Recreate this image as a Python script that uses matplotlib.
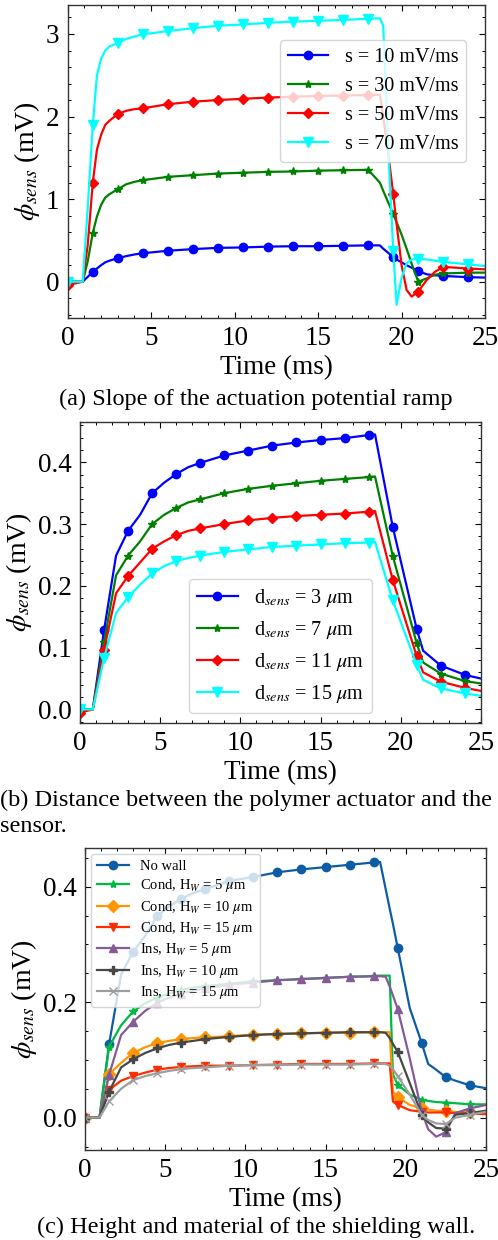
import numpy as np
import matplotlib
matplotlib.use("Agg")
import matplotlib.pyplot as plt
from matplotlib.ticker import MultipleLocator

plt.rcParams['font.family'] = ['Liberation Serif', 'DejaVu Serif']
plt.rcParams['mathtext.fontset'] = 'stix'
plt.rcParams['xtick.direction'] = 'in'
plt.rcParams['ytick.direction'] = 'in'
plt.rcParams['xtick.top'] = True
plt.rcParams['ytick.right'] = True
plt.rcParams['xtick.major.size'] = 4.5
plt.rcParams['ytick.major.size'] = 4.5
plt.rcParams['xtick.minor.size'] = 2.2
plt.rcParams['ytick.minor.size'] = 2.2
plt.rcParams['xtick.major.width'] = 0.8
plt.rcParams['ytick.major.width'] = 0.8
plt.rcParams['xtick.minor.width'] = 0.7
plt.rcParams['ytick.minor.width'] = 0.7
plt.rcParams['axes.linewidth'] = 1.0
plt.rcParams['axes.edgecolor'] = '#333333'

# (a) slope of the actuation potential ramp
t_a = [0, 0.9, 1.2, 1.5, 1.75, 2.0, 2.25, 2.5, 3, 3.5, 4, 4.5, 6, 7.5, 9, 10.5, 12, 13.5, 15,
       16.5, 18, 18.7, 18.9, 19.2, 19.5, 19.7, 20.0, 20.3, 20.6, 21, 21.5, 22, 22.5, 24, 25]
s10 = [0, 0, 0.06, 0.12, 0.16, 0.2, 0.235, 0.255, 0.285, 0.31, 0.33, 0.345, 0.375, 0.395, 0.41,
       0.415, 0.425, 0.43, 0.43, 0.435, 0.44, 0.44, 0.4, 0.35, 0.295, 0.27, 0.235, 0.2, 0.17,
       0.13, 0.09, 0.078, 0.07, 0.055, 0.05]
s30 = [0, 0, 0.25, 0.59, 0.79, 0.93, 1.02, 1.06, 1.12, 1.18, 1.21, 1.23, 1.27, 1.29, 1.31,
       1.32, 1.33, 1.335, 1.345, 1.35, 1.355, 1.2, 1.1, 0.96, 0.82, 0.72, 0.57, 0.4, 0.22,
       0.0, 0.04, 0.085, 0.1, 0.11, 0.11]
s50 = [-0.04, 0, 0.45, 1.2, 1.6, 1.78, 1.9, 1.95, 2.03, 2.07, 2.09, 2.1, 2.15, 2.18, 2.2, 2.215,
       2.23, 2.24, 2.25, 2.255, 2.26, 2.265, 2.0, 1.55, 1.06, 0.7, 0.2, -0.1, -0.18, -0.12,
       0.02, 0.12, 0.18, 0.16, 0.15]
s70 = [0, 0, 0.9, 1.9, 2.5, 2.7, 2.8, 2.85, 2.89, 2.94, 2.97, 2.995, 3.035, 3.07, 3.1, 3.115,
       3.135, 3.15, 3.16, 3.17, 3.185, 3.19, 3.1, 1.6, 0.375, -0.28, 0.05, 0.22, 0.27, 0.275,
       0.27, 0.255, 0.24, 0.21, 0.19]

# (b) distance between actuator and sensor
t_b = [0, 0.8, 1.5, 2.25, 3, 3.75, 4.5, 5.25, 6, 6.75, 7.5, 9, 10.5, 12, 13.5, 15, 16.5, 18,
       18.4, 19.5, 21, 21.4, 22.5, 24, 25]
d3 = [0, 0, 0.128, 0.249, 0.289, 0.315, 0.35, 0.367, 0.381, 0.392, 0.399, 0.411, 0.419, 0.427,
      0.432, 0.436, 0.439, 0.444, 0.445, 0.296, 0.13, 0.095, 0.071, 0.056, 0.05]
d7 = [0, 0, 0.109, 0.217, 0.249, 0.272, 0.30, 0.315, 0.326, 0.335, 0.34, 0.35, 0.357, 0.362,
      0.366, 0.37, 0.373, 0.376, 0.377, 0.249, 0.107, 0.076, 0.058, 0.046, 0.042]
d11 = [-0.005, 0, 0.096, 0.188, 0.216, 0.238, 0.26, 0.272, 0.282, 0.289, 0.293, 0.30, 0.306, 0.31,
       0.313, 0.315, 0.317, 0.32, 0.321, 0.21, 0.086, 0.06, 0.045, 0.035, 0.03]
d15 = [0, 0, 0.083, 0.156, 0.182, 0.202, 0.22, 0.232, 0.24, 0.245, 0.249, 0.255, 0.259, 0.263,
       0.265, 0.267, 0.269, 0.27, 0.271, 0.177, 0.072, 0.048, 0.034, 0.026, 0.022]

# (c) height and material of the shielding wall
t_c = [0, 0.9, 1.5, 2.25, 3, 3.75, 4.5, 5.25, 6, 6.75, 7.5, 9, 10.5, 12, 13.5, 15, 16.5, 18,
       18.4, 18.75, 19.0, 19.2, 19.5, 20.25, 21, 21.4, 21.9, 22.5, 23.1, 24, 25]
no_wall = [0, 0, 0.127, 0.248, 0.287, 0.315, 0.349, 0.366, 0.379, 0.389, 0.396, 0.41, 0.417,
           0.425, 0.43, 0.434, 0.438, 0.442, 0.443, 0.396, 0.362, 0.336, 0.294, 0.19, 0.129,
           0.093, 0.083, 0.07, 0.064, 0.056, 0.051]
cond5 = [0, 0, 0.123, 0.16, 0.184, 0.198, 0.208, 0.215, 0.221, 0.225, 0.228, 0.232, 0.236,
         0.238, 0.24, 0.242, 0.244, 0.245, 0.246, 0.246, 0.246, 0.075, 0.057, 0.04, 0.031,
         0.029, 0.027, 0.026, 0.025, 0.023, 0.023]
cond10 = [0, 0, 0.075, 0.095, 0.112, 0.122, 0.129, 0.133, 0.136, 0.138, 0.139, 0.141, 0.144,
          0.145, 0.146, 0.147, 0.147, 0.148, 0.148, 0.148, 0.148, 0.045, 0.036, 0.022, 0.016,
          0.014, 0.012, 0.011, 0.01, 0.009, 0.008]
cond15 = [0, 0, 0.048, 0.064, 0.072, 0.078, 0.083, 0.086, 0.088, 0.089, 0.09, 0.09, 0.091,
          0.092, 0.093, 0.093, 0.093, 0.094, 0.094, 0.094, 0.094, 0.028, 0.022, 0.013, 0.01,
          0.009, 0.009, 0.009, 0.008, 0.007, 0.006]
ins5 = [0, 0, 0.074, 0.143, 0.166, 0.185, 0.199, 0.208, 0.215, 0.22, 0.224, 0.23, 0.234,
        0.238, 0.24, 0.242, 0.244, 0.245, 0.245, 0.244, 0.227, 0.212, 0.188, 0.103, 0.01,
        -0.02, -0.033, -0.025, 0.008, 0.016, 0.022]
ins10 = [0, 0, 0.045, 0.087, 0.101, 0.112, 0.12, 0.126, 0.13, 0.133, 0.136, 0.14, 0.143,
         0.145, 0.146, 0.147, 0.148, 0.148, 0.148, 0.147, 0.138, 0.128, 0.114, 0.06, 0.005,
         -0.008, -0.018, -0.019, 0.005, 0.008, 0.012]
ins15 = [0, 0, 0.028, 0.05, 0.065, 0.072, 0.077, 0.081, 0.084, 0.086, 0.087, 0.09, 0.091,
         0.091, 0.092, 0.092, 0.092, 0.093, 0.093, 0.093, 0.09, 0.084, 0.072, 0.04, 0.005,
         -0.004, -0.01, -0.011, 0.0, 0.005, 0.01]


def mark_idx(t):
    t = np.asarray(t) / 1.5
    return list(np.where(np.isclose(t, np.round(t)))[0])


def style(ax, ylim, ymaj, ymin):
    ax.set_xlim(0, 25)
    ax.set_ylim(*ylim)
    ax.xaxis.set_major_locator(MultipleLocator(5))
    ax.xaxis.set_minor_locator(MultipleLocator(1))
    ax.yaxis.set_major_locator(MultipleLocator(ymaj))
    ax.yaxis.set_minor_locator(MultipleLocator(ymin))
    ax.tick_params(which='both', labelsize=19.5, pad=6)
    ax.set_xlabel('Time (ms)', fontsize=19.5, labelpad=3)
    ax.set_ylabel(r'$\phi_{sens}$ (mV)', fontsize=20, labelpad=3)


fig = plt.figure(figsize=(4.98, 12.4), dpi=100)

# panel a
ax = fig.add_axes([0.136, 0.7435, 0.838, 0.2524])
mk = mark_idx(t_a)
ax.plot(t_a, s10, c='blue', marker='o', ms=6, lw=1.6, markevery=mk, label='s = 10 mV/ms')
ax.plot(t_a, s30, c='green', marker='*', ms=6, lw=1.6, markevery=mk, label='s = 30 mV/ms')
ax.plot(t_a, s50, c='red', marker='D', ms=5.5, lw=1.6, markevery=mk, label='s = 50 mV/ms')
ax.plot(t_a, s70, c='cyan', marker='v', ms=6.5, lw=1.6, markevery=mk, label='s = 70 mV/ms')
style(ax, (-0.44, 3.35), 1, 0.2)
ax.yaxis.set_major_formatter(plt.FormatStrFormatter('%d'))
ax.legend(loc='upper right', bbox_to_anchor=(0.955, 0.89), borderaxespad=0, fontsize=14.5)

# panel b
ax = fig.add_axes([0.1606, 0.4169, 0.805, 0.2427])
mk = mark_idx(t_b)
ax.plot(t_b, d3, c='blue', marker='o', ms=6, lw=1.6, markevery=mk, label=r'd$_{sens}$ = 3 $\mu$m')
ax.plot(t_b, d7, c='green', marker='*', ms=6, lw=1.6, markevery=mk, label=r'd$_{sens}$ = 7 $\mu$m')
ax.plot(t_b, d11, c='red', marker='D', ms=5.5, lw=1.6, markevery=mk, label=r'd$_{sens}$ = 11 $\mu$m')
ax.plot(t_b, d15, c='cyan', marker='v', ms=6.5, lw=1.6, markevery=mk, label=r'd$_{sens}$ = 15 $\mu$m')
style(ax, (-0.022, 0.465), 0.1, 0.02)
ax.yaxis.set_major_formatter(plt.FormatStrFormatter('%.1f'))
ax.legend(loc='lower center', fontsize=14.5)

# panel c
ax = fig.add_axes([0.1707, 0.0726, 0.805, 0.2435])
mk = mark_idx(t_c)
series_c = [
    (no_wall, '#0C5DA5', 'o', 'No wall'),
    (cond5, '#00B945', '*', r'Cond, H$_W$ = 5 $\mu$m'),
    (cond10, '#FF9500', 'D', r'Cond, H$_W$ = 10 $\mu$m'),
    (cond15, '#FF2C00', 'v', r'Cond, H$_W$ = 15 $\mu$m'),
    (ins5, '#845B97', '^', r'Ins, H$_W$ = 5 $\mu$m'),
    (ins10, '#474747', 'P', r'Ins, H$_W$ = 10 $\mu$m'),
    (ins15, '#9e9e9e', 'x', r'Ins, H$_W$ = 15 $\mu$m'),
]
for y, col, m, lab in series_c:
    ax.plot(t_c, y, c=col, marker=m, ms=6, lw=1.6, markevery=mk, label=lab)
style(ax, (-0.056, 0.467), 0.2, 0.05)
ax.yaxis.set_major_formatter(plt.FormatStrFormatter('%.1f'))
ax.legend(loc='upper left', fontsize=10.5, borderaxespad=0.4, labelspacing=0.3,
          handlelength=2.2)

# captions
fig.text(0.514, 1 - 399 / 1240, '(a) Slope of the actuation potential ramp',
         ha='center', va='center', fontsize=17.5)
fig.text(0.0, 1 - 800 / 1240, '(b) Distance between the polymer actuator and the',
         ha='left', va='center', fontsize=17.5)
fig.text(0.0, 1 - 827 / 1240, 'sensor.', ha='left', va='center', fontsize=17.5)
fig.text(0.514, 1 - 1227 / 1240, '(c) Height and material of the shielding wall.',
         ha='center', va='center', fontsize=17.5)

fig.savefig('out.png', dpi=100)
